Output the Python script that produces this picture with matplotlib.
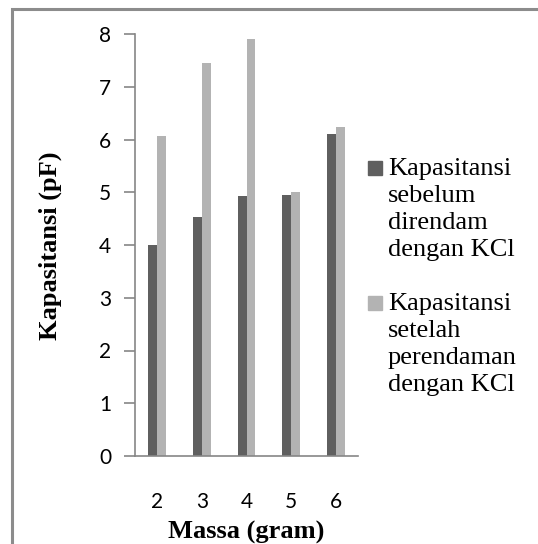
import numpy as np
import matplotlib.pyplot as plt
from matplotlib.patches import Rectangle

massa = ["2", "3", "4", "5", "6"]
sebelum = [4.00, 4.53, 4.93, 4.95, 6.10]
setelah = [6.07, 7.45, 7.90, 5.00, 6.23]
series_labels = [
    "Kapasitansi\nsebelum\ndirendam\ndengan KCl",
    "Kapasitansi\nsetelah\nperendaman\ndengan KCl",
]
series_colors = ["#5f5f5f", "#b3b3b3"]
yticks = [0, 1, 2, 3, 4, 5, 6, 7, 8]

W, H = 538, 544
fig = plt.figure(figsize=(W / 100, H / 100), dpi=100)

# outer frame (cut off at right and bottom edges)
fig.patches.append(Rectangle((12 / W, -0.1), 1.2, (H - 9) / H + 0.1,
                             transform=fig.transFigure, fill=False,
                             edgecolor="#8c8c8c", linewidth=2.2))

ax = fig.add_axes([135 / W, (H - 456) / H, (358 - 135) / W, (456 - 34) / H])

x = np.arange(len(massa))
bw = 0.2
ax.bar(x - bw / 2, sebelum, bw, color=series_colors[0])
ax.bar(x + bw / 2, setelah, bw, color=series_colors[1])

ax.set_xlim(-0.5, len(massa) - 0.5)
ax.set_ylim(0, 8)
ax.set_yticks(yticks)
ax.set_xticks(x)
ax.set_xticklabels(massa)

for s in ["top", "right"]:
    ax.spines[s].set_visible(False)
for s in ["left", "bottom"]:
    ax.spines[s].set_color("#868686")
    ax.spines[s].set_linewidth(1.2)

for lab in ax.get_yticklabels() + ax.get_xticklabels():
    lab.set_fontfamily(["Lato", "DejaVu Sans"])
    lab.set_fontsize(15)
ax.tick_params(axis="y", direction="out", length=8, width=1.2, color="#868686", pad=9)
ax.tick_params(axis="x", length=0, pad=26)

serif = ["Liberation Serif", "DejaVu Serif"]
fig.text(246 / W, 1 - 532 / H, "Massa (gram)", ha="center", va="center",
         fontsize=19, fontweight="bold", family=serif)
fig.text(50 / W, 1 - 246 / H, "Kapasitansi (pF)", ha="center", va="center",
         rotation=90, fontsize=19, fontweight="bold", family=serif)

# legend: square marker beside the first line, one text line every 27 px
line_px = 27
top_px = 158
for label, color in zip(series_labels, series_colors):
    fig.patches.append(Rectangle((368 / W, 1 - (top_px + 17) / H), 14 / W, 14 / H,
                                 transform=fig.transFigure, color=color))
    for line in label.split("\n"):
        fig.text(388 / W, 1 - top_px / H, line, ha="left", va="top",
                 fontsize=19, family=serif)
        top_px += line_px
    top_px += line_px

fig.savefig("out.png", dpi=100)
